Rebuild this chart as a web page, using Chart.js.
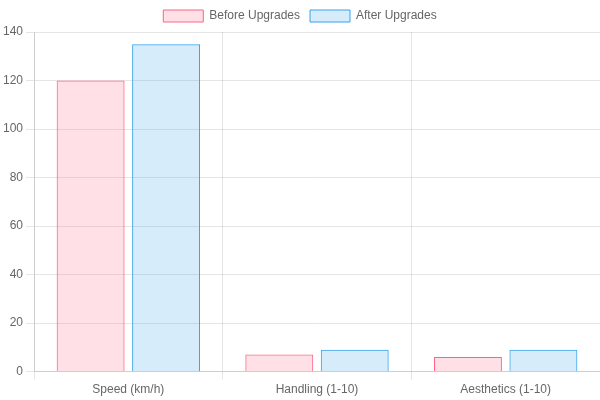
<!DOCTYPE html>
<html>
<head>
<meta charset="utf-8">
<script src="https://cdn.jsdelivr.net/npm/chart.js@4"></script>
<style>
  html, body { margin: 0; padding: 0; background: #fff; }
  .wrap { width: 600px; height: 400px; }
</style>
</head>
<body>
<div class="wrap"><canvas id="upgradeChart"></canvas></div>
<script>
// Chart data
const categories = ['Speed (km/h)', 'Handling (1-10)', 'Aesthetics (1-10)'];
const beforeUpgrades = [120, 7, 6];
const afterUpgrades = [135, 9, 9];

new Chart(document.getElementById('upgradeChart'), {
    type: 'bar',
    data: {
        labels: categories,
        datasets: [
            {
                label: 'Before Upgrades',
                data: beforeUpgrades,
                backgroundColor: 'rgba(255, 99, 132, 0.2)',
                borderColor: 'rgba(255, 99, 132, 1)',
                borderWidth: 1
            },
            {
                label: 'After Upgrades',
                data: afterUpgrades,
                backgroundColor: 'rgba(54, 162, 235, 0.2)',
                borderColor: 'rgba(54, 162, 235, 1)',
                borderWidth: 1
            }
        ]
    },
    options: {
        responsive: true,
        maintainAspectRatio: false,
        animation: false,
        scales: {
            y: { beginAtZero: true }
        }
    }
});
</script>
</body>
</html>
